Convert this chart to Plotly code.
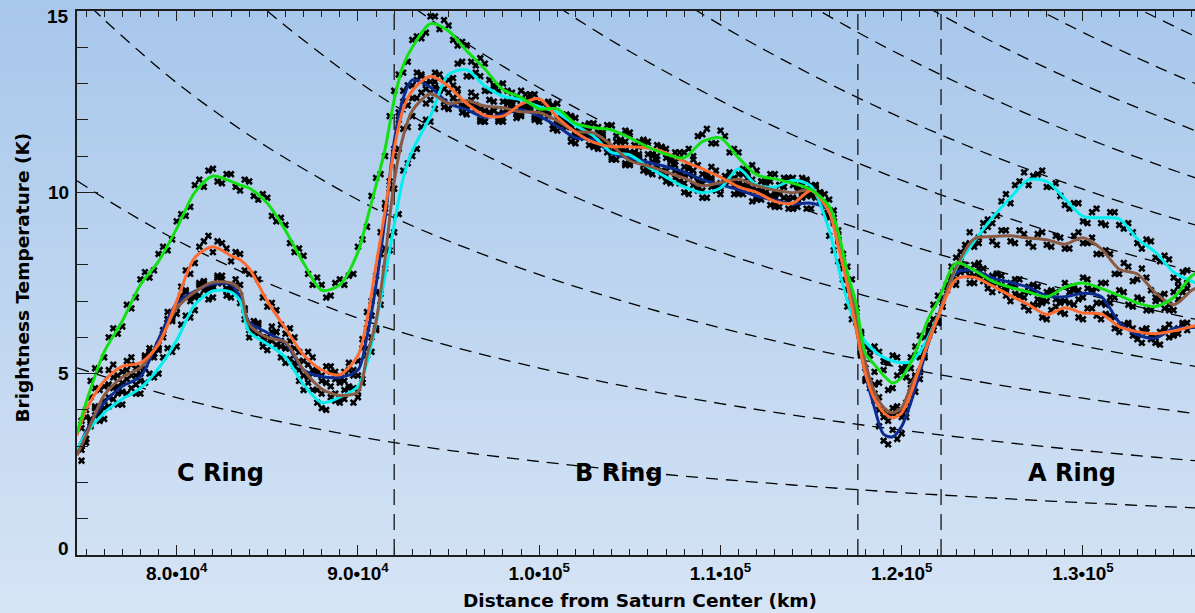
import plotly.graph_objects as go

# ---------------------------------------------------------------------------
# Radial sample positions (km) for the smoothed brightness-temperature profiles
radius_km = [
    74500, 75000, 76000, 77000, 78000, 79000, 80000, 81000, 82000, 83000,
    83500, 84000, 85000, 86000, 87000, 88000, 89000, 90000, 90500, 91000,
    91500, 92000, 92500, 93000, 94000, 95000, 96000, 97000, 98000, 99000,
    100000, 101000, 102000, 103000, 104000, 105000, 106000, 107000, 108000, 109000,
    110000, 111000, 112000, 113000, 114000, 115000, 116000, 116500, 117000, 117500,
    118000, 118500, 119000, 119500, 120000, 120500, 121000, 121500, 122000, 123000,
    124000, 125000, 126000, 127000, 128000, 129000, 130000, 131000, 132000, 133000,
    134000, 135000, 136000, 136200,
]

temp_green = [
    3.37, 4.2, 5.6, 6.45, 7.45, 8.1, 9.0, 10.0, 10.45, 10.3,
    10.2, 10.12, 9.7, 8.95, 8.05, 7.3, 7.45, 8.35, 9.25, 10.2,
    11.2, 12.55, 13.5, 14.0, 14.65, 14.45, 13.9, 13.4, 12.83, 12.62,
    12.3, 12.3, 11.9, 11.78, 11.72, 11.5, 11.25, 11.05, 10.95, 11.4,
    11.5, 10.95, 10.48, 10.37, 10.25, 10.07, 9.62, 8.9, 7.8, 6.9,
    5.55, 5.25, 4.95, 4.74, 4.9, 5.3, 5.9, 6.55, 7.0, 8.05,
    7.85, 7.55, 7.38, 7.25, 7.12, 7.38, 7.5, 7.35, 7.15, 6.95,
    6.85, 7.1, 7.7, 7.75,
]
temp_cyan = [
    2.9, 3.35, 3.92, 4.3, 4.6, 5.15, 5.92, 6.9, 7.28, 7.25,
    7.0, 6.15, 5.82, 5.45, 4.7, 4.2, 4.35, 4.65, 5.3, 6.4,
    7.7, 9.1, 10.4, 11.15, 12.1, 13.25, 13.38, 12.93, 12.65, 12.55,
    12.36, 12.2, 11.85, 11.55, 11.1, 11.03, 10.7, 10.42, 10.15, 9.99,
    10.12, 10.65, 10.2, 10.15, 10.33, 10.17, 8.95, 7.95, 7.0, 6.3,
    5.88, 5.62, 5.45, 5.35, 5.3, 5.33, 5.6, 6.05, 6.6, 7.9,
    8.65, 9.3, 9.85, 10.35, 10.3, 9.82, 9.34, 9.3, 9.27, 8.72,
    8.35, 7.8, 7.55, 7.5,
]
temp_orange = [
    3.3, 4.0, 4.8, 5.2, 5.3, 5.8, 7.0, 8.2, 8.5, 8.25,
    8.14, 7.9, 7.0, 6.25, 5.52, 5.1, 4.97, 5.5, 6.48, 8.0,
    9.5, 11.2, 12.3, 12.8, 13.2, 12.92, 12.45, 12.12, 12.1, 12.43,
    12.58, 12.07, 11.66, 11.38, 11.26, 11.26, 11.22, 11.09, 10.85, 10.65,
    10.42, 10.15, 10.0, 9.75, 9.7, 10.05, 9.45, 8.5, 7.45, 6.2,
    5.0, 4.3, 3.93, 3.78, 3.92, 4.45, 5.2, 5.9, 6.55, 7.6,
    7.66, 7.42, 7.15, 6.9, 6.63, 6.82, 6.67, 6.65, 6.3, 6.16,
    6.1, 6.18, 6.3, 6.32,
]
temp_brown = [
    2.75, 3.3, 4.4, 4.9, 5.17, 5.85, 6.8, 7.25, 7.52, 7.5,
    7.3, 6.35, 6.0, 5.87, 5.1, 4.58, 4.4, 4.5, 5.5, 6.45,
    8.2, 10.3, 11.55, 12.25, 12.72, 12.45, 12.53, 12.38, 12.33, 12.22,
    12.2, 11.97, 11.68, 11.64, 11.3, 10.87, 10.73, 10.56, 10.39, 10.18,
    10.27, 10.36, 10.18, 10.06, 9.99, 10.07, 9.5, 8.6, 7.75, 6.6,
    5.3, 4.5, 4.07, 3.92, 4.07, 4.65, 5.2, 5.98, 6.58, 7.93,
    8.72, 8.78, 8.8, 8.74, 8.69, 8.57, 8.75, 8.45, 7.88, 7.75,
    7.23, 6.9, 7.3, 7.35,
]
temp_blue = [
    2.85, 3.4, 4.2, 4.65, 4.92, 5.95, 6.94, 7.27, 7.47, 7.46,
    7.1, 6.42, 6.13, 5.85, 5.1, 4.92, 4.9, 5.1, 6.03, 7.45,
    9.3, 11.4, 12.6, 13.1, 12.9, 12.45, 12.28, 12.07, 12.15, 12.28,
    12.1, 11.82, 11.5, 11.45, 11.07, 10.95, 10.83, 10.71, 10.56, 10.35,
    10.21, 10.07, 9.9, 9.78, 9.68, 9.7, 9.52, 8.75, 7.5, 6.22,
    4.98, 4.05, 3.33, 3.26, 3.55, 4.2, 5.03, 5.88, 6.58, 7.78,
    7.85, 7.64, 7.52, 7.38, 7.15, 7.12, 7.22, 7.13, 6.42, 6.08,
    5.98, 6.25, 6.27, 6.28,
]

# Individual measurements, two interleaved passes:
# pass A every 500 km from 74750 km, pass B every 500 km from 75000 km
pass_a_km = list(range(74750, 136000, 500))
pass_b_km = list(range(75000, 136000, 500))

obs_green_a = [
    3.7, 4.8, 5.1, 6.0, 6.1, 6.9, 7.1, 7.8, 7.85, 8.5,
    8.7, 9.4, 9.6, 10.35, 10.6, 10.3, 10.5, 10.15, 10.35, 9.9,
    9.95, 9.35, 9.3, 8.6, 8.45, 7.75, 7.65, 7.1, 7.5, 7.45,
    7.75, 8.7, 9.9, 10.5, 12.1, 13.25, 13.6, 14.3, 14.4, 14.85,
    14.75, 14.2, 14.15, 13.6, 13.7, 13.1, 12.95, 12.8, 12.55, 12.7,
    12.45, 12.2, 12.4, 12.0, 12.1, 11.75, 11.9, 11.65, 11.85, 11.55,
    11.7, 11.3, 11.45, 11.05, 11.25, 10.9, 11.1, 11.2, 11.55, 11.75,
    11.35, 11.55, 11.2, 10.65, 10.75, 10.3, 10.5, 10.2, 10.4, 10.05,
    10.3, 10.15, 9.65, 9.5, 8.3, 7.6, 6.1, 5.5, 4.75, 4.55,
    4.95, 4.9, 5.75, 6.0, 6.9, 7.1, 7.95, 8.2, 7.85, 8.05,
    7.6, 7.75, 7.3, 7.45, 7.1, 7.3, 6.95, 7.2, 7.0, 7.4,
    7.3, 7.6, 7.35, 7.5, 7.1, 7.25, 6.85, 7.05, 6.75, 7.05,
    6.9, 7.4, 7.5,
]
obs_green_b = [
    4.0, 5.15, 5.45, 6.25, 6.3, 6.8, 7.6, 7.65, 8.3, 8.4,
    9.2, 9.35, 10.2, 10.15, 10.65, 10.25, 10.5, 10.05, 10.3, 9.8,
    9.85, 9.2, 9.1, 8.35, 8.25, 7.45, 7.45, 7.15, 7.6, 7.7,
    8.5, 9.05, 10.4, 11.0, 12.8, 13.3, 14.2, 14.25, 14.85, 14.5,
    14.6, 14.05, 14.05, 13.5, 13.55, 12.95, 13.0, 12.55, 12.8, 12.3,
    12.45, 12.15, 12.45, 11.95, 12.05, 11.7, 11.9, 11.6, 11.85, 11.45,
    11.65, 11.25, 11.4, 11.0, 11.2, 10.85, 11.1, 11.0, 11.6, 11.35,
    11.7, 11.1, 11.1, 10.55, 10.6, 10.3, 10.5, 10.15, 10.4, 10.0,
    10.2, 9.75, 9.8, 8.7, 7.95, 6.7, 5.75, 5.05, 5.1, 4.6,
    5.05, 5.15, 6.05, 6.35, 7.15, 7.45, 8.2, 7.85, 8.0, 7.55,
    7.7, 7.3, 7.5, 7.15, 7.4, 7.05, 7.25, 7.05, 7.5, 7.35,
    7.65, 7.3, 7.5, 7.1, 7.3, 6.9, 7.1, 6.75, 7.0, 6.8,
    7.25, 7.25,
]
obs_cyan_a = [
    3.0, 3.55, 3.7, 4.1, 4.15, 4.45, 4.45, 4.75, 4.9, 5.45,
    5.6, 6.35, 6.55, 7.15, 7.05, 7.5, 7.15, 7.25, 6.5, 6.15,
    5.75, 5.9, 5.45, 5.4, 4.8, 4.75, 4.2, 4.0, 4.45, 4.3,
    4.6, 4.75, 6.0, 6.9, 8.4, 9.4, 10.8, 11.2, 12.0, 12.3,
    13.1, 13.15, 13.6, 13.2, 13.2, 12.8, 12.8, 12.5, 12.65, 12.35,
    12.5, 12.2, 12.35, 12.05, 12.1, 11.6, 11.7, 11.3, 11.3, 10.9,
    11.15, 10.9, 10.85, 10.5, 10.55, 10.25, 10.3, 9.95, 10.1, 9.85,
    10.15, 10.25, 10.4, 10.55, 10.35, 10.05, 10.3, 10.0, 10.4, 10.2,
    10.35, 9.95, 9.6, 8.4, 7.6, 6.5, 6.15, 5.65, 5.6, 5.3,
    5.45, 5.2, 5.5, 5.7, 6.5, 6.95, 7.65, 8.0, 8.6, 8.75,
    9.25, 9.35, 9.95, 10.2, 10.55, 10.45, 10.6, 10.15, 9.9, 9.55,
    9.7, 9.15, 9.55, 9.1, 9.45, 9.0, 8.9, 8.45, 8.65, 8.1,
    8.15, 7.55, 7.85,
]
obs_cyan_b = [
    3.2, 3.85, 3.75, 4.3, 4.15, 4.6, 4.45, 5.0, 5.0, 5.7,
    5.75, 6.6, 6.75, 7.3, 7.1, 7.5, 7.1, 7.15, 6.0, 6.1,
    5.65, 5.8, 5.3, 5.2, 4.55, 4.55, 4.05, 4.35, 4.2, 4.65,
    4.5, 5.5, 6.2, 7.9, 8.9, 10.6, 11.0, 11.8, 11.95, 12.85,
    13.1, 13.55, 13.2, 13.3, 12.8, 12.9, 12.5, 12.75, 12.4, 12.6,
    12.2, 12.45, 12.05, 12.15, 11.7, 11.85, 11.4, 11.45, 10.95, 11.2,
    10.9, 11.0, 10.55, 10.7, 10.3, 10.4, 10.0, 10.2, 9.85, 10.15,
    9.95, 10.55, 10.5, 10.65, 10.05, 10.3, 10.0, 10.4, 10.2, 10.4,
    10.05, 9.85, 8.8, 8.1, 6.85, 6.45, 5.75, 5.75, 5.35, 5.5,
    5.15, 5.45, 5.45, 6.2, 6.45, 7.45, 7.75, 8.45, 8.5, 9.15,
    9.15, 9.75, 9.7, 10.3, 10.2, 10.5, 10.15, 10.25, 9.65, 9.7,
    9.2, 9.45, 9.15, 9.45, 9.1, 9.15, 8.6, 8.7, 8.2, 8.25,
    7.65, 7.8,
]
obs_orange_a = [
    3.5, 4.35, 4.55, 5.1, 4.95, 5.35, 5.15, 5.5, 5.55, 6.1,
    6.5, 7.4, 7.75, 8.5, 8.8, 8.65, 8.45, 8.35, 7.85, 7.75,
    7.1, 6.95, 6.35, 6.25, 5.6, 5.6, 5.1, 5.2, 4.85, 5.05,
    5.1, 5.95, 7.0, 8.9, 10.1, 12.0, 12.4, 13.1, 13.0, 13.3,
    12.85, 12.95, 12.4, 12.55, 12.0, 12.2, 11.95, 12.25, 12.2, 12.55,
    12.7, 12.45, 12.35, 11.9, 11.85, 11.5, 11.55, 11.2, 11.4, 11.15,
    11.4, 11.1, 11.35, 11.05, 11.25, 10.9, 10.95, 10.65, 10.75, 10.5,
    10.6, 10.3, 10.35, 9.95, 10.1, 9.8, 9.9, 9.6, 9.75, 9.6,
    10.1, 10.2, 9.75, 9.2, 7.9, 7.0, 5.5, 4.7, 4.0, 3.7,
    3.95, 4.0, 4.9, 5.45, 6.5, 6.85, 7.6, 7.8, 7.5, 7.7,
    7.35, 7.5, 7.15, 7.2, 6.85, 6.9, 6.55, 6.75, 6.7, 6.95,
    6.55, 6.8, 6.6, 6.65, 6.25, 6.35, 6.05, 6.2, 5.95, 6.15,
    6.0, 6.25, 6.2,
]
obs_orange_b = [
    3.8, 4.6, 4.65, 5.25, 5.05, 5.45, 5.15, 5.7, 5.65, 6.5,
    6.8, 7.85, 8.05, 8.65, 8.35, 8.6, 8.1, 8.3, 7.75, 7.6,
    6.85, 6.75, 6.1, 6.0, 5.35, 5.45, 4.95, 5.2, 4.8, 5.3,
    5.35, 6.7, 7.7, 9.7, 11.0, 12.5, 12.6, 13.25, 13.05, 13.25,
    12.75, 12.85, 12.3, 12.4, 11.95, 12.25, 11.95, 12.4, 12.3, 12.7,
    12.45, 12.5, 11.9, 12.0, 11.5, 11.65, 11.25, 11.45, 11.1, 11.4,
    11.1, 11.4, 11.05, 11.3, 10.95, 11.1, 10.7, 10.9, 10.5, 10.7,
    10.25, 10.45, 10.0, 10.2, 9.85, 10.0, 9.6, 9.85, 9.55, 10.05,
    9.9, 10.0, 9.3, 8.65, 7.3, 6.4, 4.85, 4.45, 3.8, 3.9,
    3.8, 4.6, 5.05, 6.1, 6.4, 7.3, 7.45, 7.85, 7.5, 7.7,
    7.25, 7.45, 7.0, 7.15, 6.75, 6.9, 6.5, 6.85, 6.65, 6.9,
    6.5, 6.8, 6.5, 6.6, 6.15, 6.35, 6.05, 6.25, 6.0, 6.25,
    6.05, 6.35,
]
obs_brown_a = [
    2.9, 3.75, 4.0, 4.7, 4.65, 5.1, 4.95, 5.45, 5.55, 6.2,
    6.45, 7.05, 7.0, 7.5, 7.35, 7.7, 7.35, 7.6, 6.8, 6.45,
    5.9, 6.15, 5.75, 5.9, 5.1, 5.25, 4.55, 4.75, 4.25, 4.55,
    4.2, 4.85, 5.6, 7.2, 8.8, 11.2, 11.8, 12.6, 12.45, 12.9,
    12.35, 12.6, 12.35, 12.75, 12.3, 12.55, 12.15, 12.45, 12.05, 12.4,
    12.05, 12.3, 11.85, 12.0, 11.55, 11.8, 11.5, 11.8, 11.35, 11.4,
    10.75, 11.0, 10.6, 10.85, 10.45, 10.7, 10.25, 10.5, 10.05, 10.35,
    10.1, 10.45, 10.2, 10.5, 10.05, 10.3, 9.9, 10.2, 9.85, 10.15,
    9.9, 10.2, 9.95, 9.15, 8.3, 7.1, 6.1, 4.8, 4.35, 3.85,
    4.1, 4.2, 4.95, 5.45, 6.3, 6.85, 7.7, 8.35, 8.9, 8.6,
    9.05, 8.55, 8.95, 8.6, 8.85, 8.5, 8.9, 8.5, 8.75, 8.45,
    8.9, 8.6, 8.3, 8.4, 7.75, 8.05, 7.55, 7.9, 7.3, 7.15,
    6.75, 7.05, 7.35,
]
obs_brown_b = [
    3.1, 4.1, 4.25, 4.9, 4.75, 5.25, 5.0, 5.6, 5.7, 6.5,
    6.65, 7.25, 7.1, 7.55, 7.4, 7.7, 7.35, 7.45, 6.2, 6.35,
    5.85, 6.15, 5.7, 5.7, 4.95, 5.0, 4.45, 4.65, 4.3, 4.6,
    4.35, 5.7, 6.25, 8.45, 10.1, 11.75, 12.1, 12.75, 12.55, 12.8,
    12.3, 12.7, 12.4, 12.65, 12.25, 12.5, 12.2, 12.45, 12.1, 12.35,
    12.05, 12.25, 11.85, 11.95, 11.55, 11.8, 11.5, 11.65, 11.15, 11.25,
    10.75, 10.95, 10.6, 10.8, 10.45, 10.6, 10.25, 10.45, 10.05, 10.35,
    10.15, 10.45, 10.25, 10.4, 10.05, 10.25, 9.9, 10.15, 9.85, 10.2,
    9.95, 10.0, 9.35, 8.8, 7.6, 6.8, 5.15, 4.7, 3.95, 4.05,
    3.95, 4.8, 5.05, 6.15, 6.45, 7.45, 7.8, 8.55, 8.6, 8.95,
    8.65, 8.95, 8.65, 8.95, 8.6, 8.85, 8.55, 8.8, 8.45, 8.8,
    8.6, 8.75, 8.3, 8.3, 7.75, 7.95, 7.6, 7.65, 7.1, 7.2,
    6.75, 7.25,
]
obs_blue_a = [
    2.6, 3.6, 3.9, 4.35, 4.45, 4.85, 4.7, 5.15, 5.45, 6.0,
    6.6, 7.15, 7.1, 7.45, 7.3, 7.65, 7.3, 7.45, 6.75, 6.35,
    6.0, 6.3, 5.9, 5.7, 5.35, 4.9, 5.05, 4.75, 5.05, 4.8,
    4.95, 5.7, 6.6, 8.3, 10.3, 12.2, 12.95, 13.3, 12.85, 13.05,
    12.5, 12.6, 12.2, 12.4, 11.95, 12.2, 12.0, 12.3, 12.15, 12.4,
    12.0, 12.2, 11.75, 11.85, 11.4, 11.6, 11.3, 11.55, 11.1, 11.2,
    10.8, 11.1, 10.75, 11.0, 10.6, 10.85, 10.5, 10.7, 10.3, 10.45,
    10.05, 10.35, 9.95, 10.2, 9.75, 9.95, 9.65, 9.95, 9.55, 9.8,
    9.55, 9.85, 9.45, 9.3, 8.1, 7.05, 5.55, 4.6, 3.55, 3.05,
    3.2, 3.8, 4.5, 5.5, 6.2, 7.05, 7.6, 7.95, 7.7, 7.9,
    7.5, 7.75, 7.35, 7.6, 7.25, 7.45, 7.05, 7.3, 6.95, 7.25,
    7.05, 7.35, 6.95, 6.9, 6.55, 6.3, 6.25, 5.85, 6.05, 5.8,
    6.35, 6.1, 6.4,
]
obs_blue_b = [
    3.2, 4.05, 4.05, 4.6, 4.5, 4.95, 4.8, 5.55, 5.8, 6.7,
    6.8, 7.3, 7.15, 7.5, 7.35, 7.6, 7.35, 6.95, 6.3, 6.4,
    6.0, 6.15, 5.7, 5.3, 4.95, 5.1, 4.8, 5.05, 4.75, 5.1,
    4.95, 6.25, 7.25, 9.55, 11.2, 12.8, 12.95, 13.2, 12.75, 12.85,
    12.3, 12.5, 12.15, 12.3, 11.95, 12.25, 12.05, 12.35, 12.15, 12.35,
    11.95, 12.1, 11.7, 11.8, 11.35, 11.6, 11.3, 11.4, 10.9, 11.15,
    10.8, 11.05, 10.7, 10.9, 10.6, 10.75, 10.45, 10.6, 10.25, 10.4,
    10.1, 10.3, 9.95, 10.1, 9.8, 9.95, 9.65, 9.85, 9.55, 9.85,
    9.55, 9.75, 9.35, 8.95, 7.3, 6.45, 4.8, 4.25, 3.15, 3.45,
    3.35, 4.4, 4.85, 6.05, 6.4, 7.4, 7.6, 8.0, 7.7, 7.9,
    7.5, 7.7, 7.4, 7.6, 7.25, 7.4, 7.0, 7.25, 7.0, 7.3,
    7.1, 7.3, 6.95, 6.95, 6.3, 6.4, 5.95, 6.15, 5.85, 6.2,
    6.1, 6.4,
]

# Reference temperature curves: one radial profile scaled by integer factors
guide_km = [74500, 76000, 78000, 80000, 82500, 85000, 87500, 90000, 92000, 95000,
            100000, 105000, 110000, 114000, 118000, 122000, 126000, 130000, 134000, 136200]
guide_profile = [5.16, 4.92, 4.62, 4.34, 4.03, 3.75, 3.50, 3.265, 3.10, 2.886,
                 2.577, 2.314, 2.088, 1.93, 1.787, 1.66, 1.545, 1.441, 1.348, 1.30]
guide_scales = [1, 2, 3, 4, 5, 6, 7, 8, 9, 10, 11]

# Ring boundaries (km) and ring names
ring_edges_km = [92000, 117580, 122170]
ring_names = ["C Ring", "B Ring", "A Ring"]
ring_name_km = [82390, 104400, 129420]
ring_name_temp = 2.25

x_tick_km = [80000, 90000, 100000, 110000, 120000, 130000]
x_tick_text = ["8.0•10<sup>4</sup>", "9.0•10<sup>4</sup>", "1.0•10<sup>5</sup>",
               "1.1•10<sup>5</sup>", "1.2•10<sup>5</sup>", "1.3•10<sup>5</sup>"]
y_tick_vals = [0, 5, 10, 15]

series = [
    ("blue", temp_blue, obs_blue_a, obs_blue_b, "#0b2b8e"),
    ("cyan", temp_cyan, obs_cyan_a, obs_cyan_b, "#00eeee"),
    ("brown", temp_brown, obs_brown_a, obs_brown_b, "#8a5a42"),
    ("orange", temp_orange, obs_orange_a, obs_orange_b, "#ff6a2e"),
    ("green", temp_green, obs_green_a, obs_green_b, "#12e012"),
]

AXIS_COLOR = "#1e1e1e"
TITLE_FONT = dict(family="DejaVu Sans", size=18.5, color="black", weight="bold")
TICK_FONT = dict(family="Liberation Sans", size=19, color="black", weight="bold")

fig = go.Figure()

# Vertical sky-blue gradient behind the whole figure
top_rgb = (167, 199, 235)
bot_rgb = (214, 228, 245)
n_bands = 90
y_top, y_bot = 1.0 + 11 / 544, -58 / 544
for i in range(n_bands):
    f0 = i / n_bands
    f1 = (i + 1.6) / n_bands
    c = tuple(round(top_rgb[j] + (bot_rgb[j] - top_rgb[j]) * (i + 0.5) / n_bands) for j in range(3))
    fig.add_shape(
        type="rect", xref="paper", yref="paper", layer="below",
        x0=-0.1, x1=1.02,
        y0=y_top - (y_top - y_bot) * min(f1, 1.0), y1=y_top - (y_top - y_bot) * f0,
        line=dict(width=0), fillcolor="rgb(%d,%d,%d)" % c,
    )

# Scaled reference curves
for k in guide_scales:
    fig.add_trace(go.Scatter(
        x=guide_km, y=[k * v for v in guide_profile], mode="lines",
        line=dict(color="black", width=1.3, dash="12px,8px", shape="spline"),
        hoverinfo="skip", showlegend=False,
    ))

# Ring boundaries
for edge in ring_edges_km:
    fig.add_trace(go.Scatter(
        x=[edge, edge], y=[0, 15], mode="lines",
        line=dict(color="#222222", width=1.4, dash="16px,9px"),
        hoverinfo="skip", showlegend=False,
    ))

# Individual measurements
for name, _, obs_a, obs_b, _ in series:
    fig.add_trace(go.Scatter(
        x=pass_a_km[:len(obs_a)] + pass_b_km[:len(obs_b)], y=obs_a + obs_b,
        mode="markers", name=name + " obs",
        marker=dict(symbol="x", size=6.5, color="black", line=dict(width=0)),
        showlegend=False,
    ))

# Smoothed profiles
for name, temps, _, _, color in series:
    fig.add_trace(go.Scatter(
        x=radius_km, y=temps, mode="lines", name=name,
        line=dict(color=color, width=3, shape="spline", smoothing=0.8),
        showlegend=False,
    ))

annotations = []
for name, xk in zip(ring_names, ring_name_km):
    annotations.append(dict(
        x=xk, y=ring_name_temp, xref="x", yref="y", text=name, showarrow=False,
        font=dict(family="DejaVu Sans", size=24, color="black", weight="bold"),
        xanchor="center", yanchor="middle",
    ))

y_shift = {0: 6.5, 15: -5.5}
for v in y_tick_vals:
    annotations.append(dict(
        x=0, y=v, xref="paper", yref="y", text=str(v), showarrow=False,
        font=dict(family="Liberation Sans", size=19, color="black", weight="bold"),
        xanchor="right", yanchor="middle", xshift=-6, yshift=y_shift.get(v, 0),
    ))

annotations.append(dict(
    x=0.504, y=-45 / 544, xref="paper", yref="paper",
    text="Distance from Saturn Center (km)", showarrow=False,
    font=TITLE_FONT, xanchor="center", yanchor="middle",
))
annotations.append(dict(
    x=-54 / 1118, y=0.51, xref="paper", yref="paper",
    text="Brightness Temperature (K)", showarrow=False, textangle=-90,
    font=TITLE_FONT, xanchor="center", yanchor="middle",
))

fig.update_layout(
    width=1195, height=613,
    margin=dict(l=77, r=0, t=11, b=58),
    paper_bgcolor="rgb(214,228,245)",
    plot_bgcolor="rgba(0,0,0,0)",
    showlegend=False,
    annotations=annotations,
    xaxis=dict(
        range=[74500, 136180], showgrid=False, zeroline=False,
        showline=True, linecolor=AXIS_COLOR, linewidth=1.5, mirror="ticks",
        ticks="inside", ticklen=10, tickwidth=1.3, tickcolor=AXIS_COLOR,
        tickmode="array", tickvals=x_tick_km, ticktext=x_tick_text,
        tickfont=TICK_FONT,
        minor=dict(ticks="inside", ticklen=6, tickwidth=1.2, tickcolor=AXIS_COLOR,
                   dtick=1000, tick0=0, showgrid=False),
    ),
    yaxis=dict(
        range=[0, 15], showgrid=False, zeroline=False,
        showline=True, linecolor=AXIS_COLOR, linewidth=1.5,
        ticks="inside", ticklen=21, tickwidth=1.3, tickcolor=AXIS_COLOR,
        tickmode="array", tickvals=y_tick_vals, showticklabels=False,
        minor=dict(ticks="inside", ticklen=11, tickwidth=1.2, tickcolor=AXIS_COLOR,
                   dtick=1, tick0=0, showgrid=False),
    ),
)

fig.write_html("out.html")
